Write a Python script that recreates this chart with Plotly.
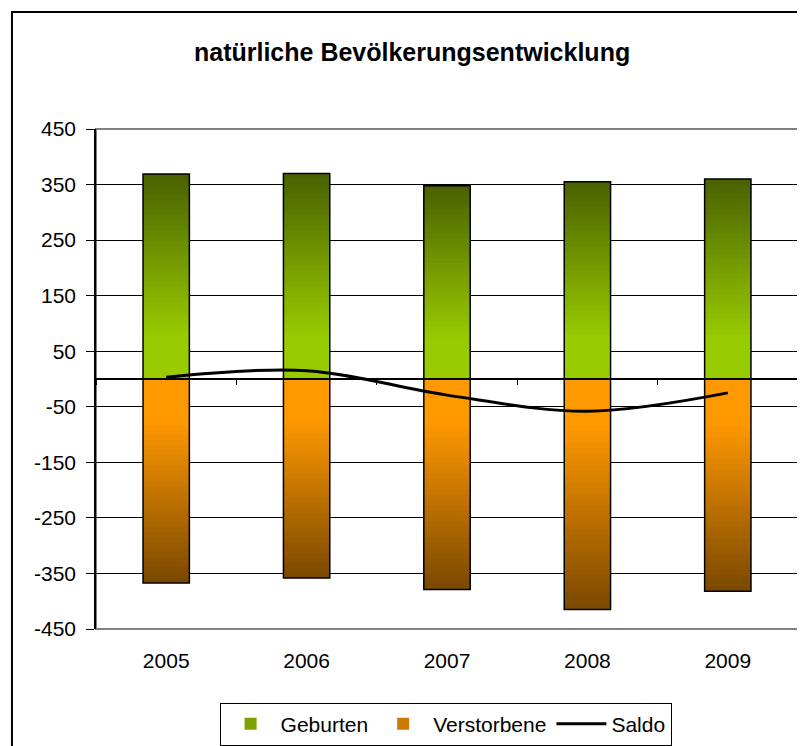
import plotly.graph_objects as go

# data
years = ['2005', '2006', '2007', '2008', '2009']
geburten = [369, 370, 348, 355, 360]
verstorbene = [-367, -358, -379, -415, -382]
saldo = [3, 15, -29, -58, -25]
y_ticks = [-450, -350, -250, -150, -50, 50, 150, 250, 350, 450]

N = 40  # slices used to fake the gradient fill


def mix(c1, c2, t):
    return 'rgb(%d,%d,%d)' % tuple(round(a + (b - a) * t) for a, b in zip(c1, c2))


def gradient_bars(fig, vals, light, dark, name):
    for k in range(N):
        t = (k + 0.5) / N
        # light plateau near zero, then linear to the dark end
        t = max(0, (t - 0.2) / 0.8)
        # each slice runs from its start to the bar end, later slices cover
        # the earlier ones -> no seams between slices
        fig.add_trace(go.Bar(
            x=years,
            y=[v - v * k / N for v in vals],
            base=[v * k / N for v in vals],
            width=0.33,
            marker=dict(color=mix(light, dark, t), line=dict(width=0)),
            name=name, legendgroup=name,
            showlegend=(k == N // 2),
            hoverinfo='skip',
        ))
    # black outline on top
    fig.add_trace(go.Bar(
        x=years, y=vals, width=0.33,
        marker=dict(color='rgba(0,0,0,0)', line=dict(color='black', width=1.5)),
        name=name, legendgroup=name, showlegend=False,
    ))


fig = go.Figure()
gradient_bars(fig, geburten, (153, 204, 0), (74, 96, 0), 'Geburten')
gradient_bars(fig, verstorbene, (255, 153, 0), (122, 72, 0), 'Verstorbene')

fig.add_trace(go.Scatter(
    x=years, y=saldo, mode='lines', name='Saldo',
    line=dict(color='black', width=3, shape='spline'),
    xaxis='x2', yaxis='y',
))

font_fam = 'Arial, Liberation Sans, sans-serif'

# page has 8px body margin, so the figure is 8px smaller than the window
fig.update_layout(
    width=797, height=738,
    barmode='overlay',
    paper_bgcolor='white', plot_bgcolor='white',
    margin=dict(l=88, r=7, t=121, b=117, autoexpand=False),
    font=dict(family=font_fam, size=21, color='black'),
    title=dict(text='<b>natürliche Bevölkerungsentwicklung</b>',
               x=0.507, xanchor='center', y=0.940, yanchor='middle',
               font=dict(size=25, family=font_fam)),
    xaxis=dict(type='category', range=[-0.5, 4.5], showgrid=False,
               showline=False, ticks='', ticklabelstandoff=17,
               tickfont=dict(size=21)),
    xaxis2=dict(type='category', range=[-0.5, 4.5], overlaying='x',
                anchor='free', position=0.5, showline=True, linecolor='black',
                linewidth=1.5, ticks='outside', tickson='boundaries', ticklen=5,
                tickcolor='black', showticklabels=False, showgrid=False),
    yaxis=dict(range=[-450, 450], tickmode='array', tickvals=y_ticks,
               ticktext=[str(v) for v in y_ticks], showgrid=True,
               gridcolor='black', gridwidth=1, zeroline=False,
               showline=True, linecolor='black', linewidth=1.5,
               ticks='outside', ticklen=8, tickcolor='black',
               ticklabelstandoff=6, tickfont=dict(size=21)),
    legend=dict(orientation='h', x=0.498, xanchor='center', y=-0.19,
                yanchor='middle', bordercolor='black', borderwidth=1,
                font=dict(size=21), traceorder='normal', itemwidth=50),
    shapes=[
        # gray plot area frame
        dict(type='rect', xref='paper', yref='paper', x0=0, x1=1, y0=0, y1=1,
             line=dict(color='#808080', width=2), layer='below'),
        # outer chart border
        dict(type='rect', xref='paper', yref='paper', x0=-0.1197, x1=1.03,
             y0=-0.3, y1=1.234, line=dict(color='black', width=2)),
    ],
)

fig.write_html("out.html")
